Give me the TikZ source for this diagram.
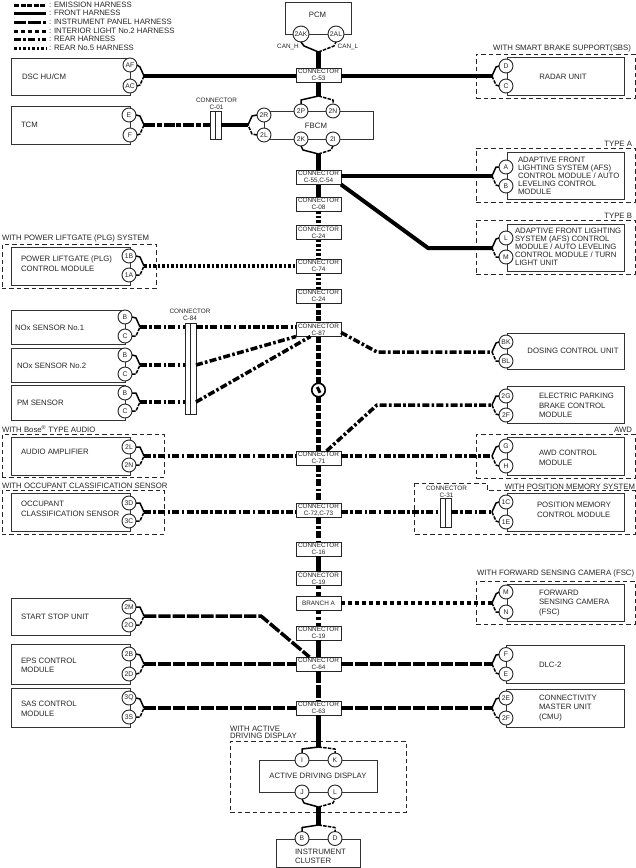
\documentclass[tikz,border=0pt]{standalone}
\usepackage{fontspec}
\setmainfont{Liberation Sans}
\usetikzlibrary{calc}
\newcommand{\bigtxt}{\fontsize{7.8}{9.6}\selectfont}
\newcommand{\tighttxt}{\fontsize{7.8}{7.9}\selectfont}
\newcommand{\smalltxt}{\fontsize{6.4}{6.9}\selectfont}
\tikzset{
  harn/.style={line width=3.5bp,black},
  hEm/.style={harn,dash pattern=on 5bp off 1.6bp},
  hTc/.style={harn,dash pattern=on 11bp off 1.8bp on 5bp off 1.8bp},
  hFr/.style={harn},
  hIp/.style={harn,dash pattern=on 12.3bp off 2bp},
  hIl/.style={harn,dash pattern=on 3.5bp off 3.5bp},
  hRe/.style={harn,dash pattern=on 7bp off 2.3bp on 2.6bp off 2.3bp},
  hRf/.style={harn,dash pattern=on 2.5bp off 2bp},
  trunk/.style={line width=5bp},
  twistA/.style={line width=1.5bp,black,line join=round},
  twistB/.style={line width=1.5bp,black,line join=round,dash pattern=on 3.5bp off 1.2bp},
  boxs/.style={draw=black!80,line width=1bp,inner sep=0pt,outer sep=0pt},
  dbox/.style={draw=black!85,line width=0.9bp,dash pattern=on 4.5bp off 3bp,inner sep=0pt,outer sep=0pt},
  conn/.style={draw=black!85,line width=1bp,fill=white,minimum width=45bp,minimum height=14bp,inner sep=0pt,outer sep=0pt,align=center,font=\smalltxt,text=black!85},
  pinc/.style={circle,draw=black!85,line width=0.9bp,fill=white,minimum size=14bp,inner sep=0pt,outer sep=0pt,font=\fontsize{6.8}{7}\selectfont,text=black!85},
  pinb/.style={pinc,minimum size=16bp},
  lab/.style={inner sep=0pt,outer sep=0pt,font=\bigtxt,text=black!85,align=left,anchor=west},
  labt/.style={lab,font=\tighttxt},
  slab/.style={inner sep=0pt,outer sep=0pt,font=\smalltxt,text=black!85,align=center},
  barc/.style={draw=black!85,line width=0.9bp,fill=white,inner sep=0pt,outer sep=0pt},
  gnds/.style={circle,draw=black,line width=1.6bp,fill=white,minimum size=13.5bp,inner sep=0pt,outer sep=0pt}
}
% rectangle node from corners
\newcommand{\rbox}[6]{%
  \pgfmathsetmacro{\cxx}{(#3+#5)/2}\pgfmathsetmacro{\cyy}{(#4+#6)/2}%
  \pgfmathsetmacro{\wdd}{#5-#3}\pgfmathsetmacro{\htt}{#6-#4}%
  \node[#1,minimum width=\wdd bp,minimum height=\htt bp] (#2) at (\cxx,\cyy) {};}
\newcommand{\cnode}[4]{\node[conn] (#1) at (318.5,#2) {#3\\#4};}
% fork opening to the right (pins on left side) a,b pins; j junction
\newcommand{\forkR}[3]{%
  \draw[twistA] (#1.east) -- ($(#3)+(-4,-9)$) -- (#3);
  \draw[twistB] (#2.east) -- ($(#3)+(-4,9)$) -- (#3);}
% fork opening to the left (pins on right side)
\newcommand{\forkL}[3]{%
  \draw[twistA] (#1.west) -- ($(#3)+(4,-9)$) -- (#3);
  \draw[twistB] (#2.west) -- ($(#3)+(4,9)$) -- (#3);}
% fork from a junction above down to two pins
\newcommand{\forkD}[3]{%
  \draw[twistA] (#3) -- ($(#1.north)+(0,-4)$) -- (#1.north);
  \draw[twistB] (#3) -- ($(#2.north)+(0,-4)$) -- (#2.north);}
% fork from two pins down to a junction below
\newcommand{\forkU}[3]{%
  \draw[twistA] (#3) -- ($(#1.south)+(2,4)$) -- (#1.south);
  \draw[twistB] (#3) -- ($(#2.south)+(-2,4)$) -- (#2.south);}
\begin{document}
\begin{tikzpicture}[x=1bp,y=-1bp]
\useasboundingbox (0,0) rectangle (636,868);
\fill[white] (0,0) rectangle (636,868);
% legend
\foreach \n/\yy/\st/\tx in {1/5/hEm/{: EMISSION HARNESS},2/13/hFr/{: FRONT HARNESS},3/22/hIp/{: INSTRUMENT PANEL HARNESS},4/31/hIl/{: INTERIOR LIGHT No.2 HARNESS},5/39/hRe/{: REAR HARNESS},6/48/hRf/{: REAR No.5 HARNESS}}{
  \coordinate (lg\n) at (14,\yy);
  \node[lab,inner xsep=3bp] (lt\n) at (46,\yy) {\tx};
  \draw[\st,line width=3bp] (lg\n) -- (lt\n.west);
}
% dashed option boxes
\rbox{dbox}{dSBS}{476}{54}{635}{98}
\rbox{dbox}{dTA}{476}{148}{635}{202}
\rbox{dbox}{dTB}{476}{220}{635}{274}
\rbox{dbox}{dPLG}{2}{244}{156}{288}
\rbox{dbox}{dAUD}{2}{434}{164}{477}
\rbox{dbox}{dOCC}{2}{490}{164}{534}
\rbox{dbox}{dAWD}{476}{434}{635}{478}
\rbox{dbox}{dFSC}{476}{581}{635}{624}
\rbox{dbox}{dADD}{230}{741}{406}{812}
\draw[draw=black!85,line width=0.9bp,dash pattern=on 4.5bp off 3bp] (414,483) -- (487,483) -- (487,490.5) -- (635,490.5) -- (635,534) -- (414,534) -- cycle;
% boxes
\rbox{boxs}{bPCM}{285}{3}{351}{34}
\rbox{boxs}{bDSC}{12}{58}{130}{95}
\rbox{boxs}{bTCM}{12}{106}{130}{144}
\rbox{boxs}{bFBCM}{264}{111}{373}{139}
\rbox{boxs}{bRAD}{507}{57}{624}{95}
\rbox{boxs}{bAFSA}{507}{152.5}{624}{199}
\rbox{boxs}{bAFSB}{507}{224}{624}{271}
\rbox{boxs}{bPLG}{12}{247}{130}{285}
\rbox{boxs}{bNA}{12}{310}{125}{344.5}
\rbox{boxs}{bNB}{12}{348}{125}{382}
\rbox{boxs}{bPM}{12}{385}{125}{420}
\rbox{boxs}{bDOS}{507}{333}{624}{369}
\rbox{boxs}{bEPB}{507}{386}{624}{423}
\rbox{boxs}{bAUD}{12}{437}{130}{475}
\rbox{boxs}{bAWD}{507}{437}{624}{475}
\rbox{boxs}{bOCC}{12}{493}{130}{531}
\rbox{boxs}{bPOS}{507}{493}{624}{531}
\rbox{boxs}{bFSC}{507}{584}{624}{621}
\rbox{boxs}{bSS}{12}{598}{130}{635}
\rbox{boxs}{bEPS}{12}{644}{130}{684}
\rbox{boxs}{bDLC}{506}{645}{624}{683}
\rbox{boxs}{bSAS}{12}{688}{130}{727}
\rbox{boxs}{bCMU}{506}{689}{624}{727}
\rbox{boxs}{bADD}{259}{760}{377}{792}
\rbox{boxs}{bINS}{276}{839}{360}{867}
% connector bars
\rbox{barc}{c01}{210}{111}{221}{139}
\rbox{barc}{c84}{185}{323}{196}{414}
\rbox{barc}{c31}{440}{498}{451}{527}
\draw[black!85,line width=0.9bp] (c01.north) -- (c01.south);
\draw[black!85,line width=0.9bp] (c84.north) -- (c84.south);
\draw[black!85,line width=0.9bp] (c31.north) -- (c31.south);
\node[slab] (c01t) at (216.5,103.5) {CONNECTOR\\C-01};
\node[slab] (c84t) at (190,315) {CONNECTOR\\C-84};
\node[slab] (c31t) at (446.5,491.5) {CONNECTOR\\C-31};
% trunk connectors
\cnode{c53}{75}{CONNECTOR}{C-53}
\cnode{c55}{177.5}{CONNECTOR}{C-55,C-54}
\cnode{c08}{204}{CONNECTOR}{C-08}
\cnode{c24a}{232.5}{CONNECTOR}{C-24}
\cnode{c74}{266}{CONNECTOR}{C-74}
\cnode{c24b}{296}{CONNECTOR}{C-24}
\cnode{c87}{329.5}{CONNECTOR}{C-87}
\cnode{c71}{458}{CONNECTOR}{C-71}
\cnode{c72}{510}{CONNECTOR}{C-72,C-73}
\cnode{c16}{549}{CONNECTOR}{C-16}
\cnode{c19a}{578.5}{CONNECTOR}{C-19}
\node[conn] (brA) at (318.5,603) {BRANCH A};
\cnode{c19b}{633}{CONNECTOR}{C-19}
\cnode{c64}{664}{CONNECTOR}{C-64}
\cnode{c63}{708}{CONNECTOR}{C-63}
% pins
\node[pinb] (p2AK) at (301,34) {2AK};
\node[pinb] (p2AL) at (336,34) {2AL};
\node[pinc] (pAF) at (130,65) {AF};
\node[pinc] (pAC) at (130,86) {AC};
\node[pinc] (pE) at (129,115) {E};
\node[pinc] (pF) at (130,135) {F};
\node[pinc] (p2R) at (264,115) {2R};
\node[pinc] (p2L) at (264,135) {2L};
\node[pinc] (p2P) at (301,111) {2P};
\node[pinc] (p2N) at (333,111) {2N};
\node[pinc] (p2K) at (301,139) {2K};
\node[pinc] (p2I) at (333,139) {2I};
\node[pinc] (pD) at (506,66) {D};
\node[pinc] (pC) at (506,86) {C};
\node[pinc] (pA) at (506,167) {A};
\node[pinc] (pB) at (506,186) {B};
\node[pinc] (pL) at (506,238) {L};
\node[pinc] (pM) at (506,257) {M};
\node[pinc] (p1B) at (129,256) {1B};
\node[pinc] (p1A) at (129,275) {1A};
\node[pinc] (naB) at (125,317) {B};
\node[pinc] (naC) at (125,336) {C};
\node[pinc] (nbB) at (125,355) {B};
\node[pinc] (nbC) at (125,374) {C};
\node[pinc] (pmB) at (125,393) {B};
\node[pinc] (pmC) at (125,411) {C};
\node[pinc] (pBK) at (506,342) {BK};
\node[pinc] (pBL) at (506,361) {BL};
\node[pinc] (e2G) at (506,396) {2G};
\node[pinc] (e2F) at (506,415) {2F};
\node[pinc] (a2L) at (129,447) {2L};
\node[pinc] (a2N) at (129,465) {2N};
\node[pinc] (pG) at (506,446) {G};
\node[pinc] (pH) at (506,466) {H};
\node[pinc] (p3D) at (129,503) {3D};
\node[pinc] (p3C) at (129,521) {3C};
\node[pinc] (p1C) at (506,502) {1C};
\node[pinc] (p1E) at (506,522) {1E};
\node[pinc] (fM) at (506,592) {M};
\node[pinc] (fN) at (506,612) {N};
\node[pinc] (p2M) at (129,607) {2M};
\node[pinc] (p2O) at (129,625) {2O};
\node[pinc] (p2B) at (129,654) {2B};
\node[pinc] (p2D) at (129,674) {2D};
\node[pinc] (dF) at (506,654.5) {F};
\node[pinc] (dE) at (506,674) {E};
\node[pinc] (p3Q) at (129,698) {3Q};
\node[pinc] (p3S) at (129,717) {3S};
\node[pinc] (c2E) at (506,698) {2E};
\node[pinc] (c2F) at (506,718) {2F};
\node[pinc] (pI) at (302,760) {I};
\node[pinc] (pK) at (335,760) {K};
\node[pinc] (pJ) at (302,792) {J};
\node[pinc] (pLL) at (335,792) {L};
\node[pinc] (iB) at (302,838.5) {B};
\node[pinc] (iD) at (335,838.5) {D};
\node[gnds] (gnd) at (318.5,390) {};
% junction coordinates
\coordinate (jPCM) at (318.5,52);
\coordinate (jFT) at (318.5,96);
\coordinate (jFB) at (318.5,154);
\coordinate (jAT) at (318.5,747);
\coordinate (jAB) at (318.5,807);
\coordinate (jIT) at (318.5,825);
\coordinate (jDSC) at (144,76);
\coordinate (jTCM) at (144,125);
\coordinate (j2R) at (248,125);
\coordinate (jPLG) at (144,266);
\coordinate (jNA) at (140,327);
\coordinate (jNB) at (140,365);
\coordinate (jPM) at (140,402);
\coordinate (jAUD) at (144,456);
\coordinate (jOCC) at (144,512);
\coordinate (jSS) at (144,616);
\coordinate (jEPS) at (144,664);
\coordinate (jSAS) at (144,708);
\coordinate (jRAD) at (492,76);
\coordinate (jTA) at (492,176);
\coordinate (jTB) at (492,248);
\coordinate (jDOS) at (492,352);
\coordinate (jEPB) at (492,405);
\coordinate (jAWD) at (492,456);
\coordinate (jPOS) at (492,512);
\coordinate (jFSC) at (492,603);
\coordinate (jDLC) at (492,664);
\coordinate (jCMU) at (492,708);
\coordinate (bTB) at (428,248);
\coordinate (bDOSc) at (377,352);
\coordinate (bEPBc) at (377,405);
\coordinate (bSSc) at (261,616);
% twisted pairs
\draw[twistA] (jPCM) -- (304,46) -- (p2AK.south);
\draw[twistB] (jPCM) -- (334,46) -- (p2AL.south);
\forkD{p2P}{p2N}{jFT}
\forkU{p2K}{p2I}{jFB}
\forkD{pI}{pK}{jAT}
\forkU{pJ}{pLL}{jAB}
\forkD{iB}{iD}{jIT}
\forkR{pAF}{pAC}{jDSC}
\forkR{pE}{pF}{jTCM}
\forkL{p2R}{p2L}{j2R}
\forkR{p1B}{p1A}{jPLG}
\forkR{naB}{naC}{jNA}
\forkR{nbB}{nbC}{jNB}
\forkR{pmB}{pmC}{jPM}
\forkR{a2L}{a2N}{jAUD}
\forkR{p3D}{p3C}{jOCC}
\forkR{p2M}{p2O}{jSS}
\forkR{p2B}{p2D}{jEPS}
\forkR{p3Q}{p3S}{jSAS}
\forkL{pD}{pC}{jRAD}
\forkL{pA}{pB}{jTA}
\forkL{pL}{pM}{jTB}
\forkL{pBK}{pBL}{jDOS}
\forkL{e2G}{e2F}{jEPB}
\forkL{pG}{pH}{jAWD}
\forkL{p1C}{p1E}{jPOS}
\forkL{fM}{fN}{jFSC}
\forkL{dF}{dE}{jDLC}
\forkL{c2E}{c2F}{jCMU}
% trunk
\draw[hFr,trunk] (jPCM) -- (c53.north);
\draw[hFr,trunk] (c53.south) -- (jFT);
\draw[hFr,trunk] (jFB) -- (c55.north);
\draw[hFr,trunk] (c55.south) -- (c08.north);
\draw[hRf,trunk] (c08.south) -- (c24a.north);
\draw[hRf,trunk] (c24a.south) -- (c74.north);
\draw[hRf,trunk] (c74.south) -- (c24b.north);
\draw[hEm,trunk] (c24b.south) -- (c87.north);
\draw[hEm,trunk,dash pattern=on 6bp off 2bp] (c87.south) -- (gnd.north);
\draw[hEm,trunk,dash pattern=on 6bp off 2bp] (gnd.south) -- (c71.north);
\draw[hRe,trunk] (c71.south) -- (c72.north);
\draw[hRe,trunk] (c72.south) -- (c16.north);
\draw[hFr,trunk] (c16.south) -- (c19a.north);
\draw[hIl,trunk,dash pattern=on 3.5bp off 3bp] (c19a.south) -- (brA.north);
\draw[hIl,trunk,dash pattern=on 3.5bp off 3bp] (brA.south) -- (c19b.north);
\draw[hFr,trunk] (c19b.south) -- (c64.north);
\draw[hIp,trunk] (c64.south) -- (c63.north);
\draw[hFr,trunk] (c63.south) -- (jAT);
\draw[hFr,trunk] (jAB) -- (jIT);
\draw[line width=3bp] ($(gnd.center)+(-1.2,-3)$) -- ($(gnd.center)+(1.5,2.8)$);
% harness runs
\draw[hFr] (jDSC) -- (c53.west |- jDSC);
\draw[hFr] (c53.east |- jRAD) -- (jRAD);
\draw[hTc] (jTCM) -- (c01.west |- jTCM);
\draw[hFr] (c01.east |- j2R) -- (j2R);
\draw[hFr] (c55.east |- jTA) -- (jTA);
\draw[hFr,line width=4bp,line join=bevel] (c55.south east) -- (bTB) -- (jTB);
\draw[hRf] (jPLG) -- (c74.west |- jPLG);
\draw[hRe] (jNA) -- (c84.west |- jNA);
\draw[hRe] (jNB) -- (c84.west |- jNB);
\draw[hRe] (jPM) -- (c84.west |- jPM);
\draw[hRe] (c84.east |- jNA) -- (c87.west |- jNA);
\draw[hRe] (c84.east |- jNB) -- (c87.south west);
\draw[hRe] (c84.east |- jPM) -- ($(c87.south)+(-8,0)$);
\draw[hRe] (c87.east) ++(0,3) -- (bDOSc) -- (jDOS);
\draw[hRe] ($(c71.north)+(8,0)$) -- (bEPBc) -- (jEPB);
\draw[hRe] (jAUD) -- (c71.west |- jAUD);
\draw[hRe] (c71.east |- jAWD) -- (jAWD);
\draw[hRe] (jOCC) -- (c72.west |- jOCC);
\draw[hRe] (c72.east |- jPOS) -- (c31.west |- jPOS);
\draw[hRe] (c31.east |- jPOS) -- (jPOS);
\draw[hIl] (brA.east |- jFSC) -- (jFSC);
\draw[hIp] (jSS) -- (bSSc) -- ($(c64.north)+(-9,0)$);
\draw[hIp] (jEPS) -- (c64.west |- jEPS);
\draw[hIp] (c64.east |- jDLC) -- (jDLC);
\draw[hIp] (jSAS) -- (c63.west |- jSAS);
\draw[hIp] (c63.east |- jCMU) -- (jCMU);
% texts
\node[lab,anchor=center] (tPCM) at (317.5,15) {PCM};
\node[slab] (tCH) at (288,47) {CAN\_H};
\node[slab] (tCL) at (348,47) {CAN\_L};
\node[lab] (tDSC) at (22,76.5) {DSC HU/CM};
\node[lab] (tTCM) at (21,125) {TCM};
\node[lab,anchor=center] (tFB) at (316,126) {FBCM};
\node[lab,anchor=center] (tRAD) at (563,76.5) {RADAR UNIT};
\node[lab,anchor=south west] (tSBS) at (493,52) {WITH SMART BRAKE SUPPORT(SBS)};
\node[lab,anchor=south east] (tTA) at (632,146) {TYPE A};
\node[labt] (tAFA) at (518,176) {ADAPTIVE FRONT\\LIGHTING SYSTEM (AFS)\\CONTROL MODULE / AUTO\\LEVELING CONTROL\\MODULE};
\node[lab,anchor=south east] (tTB) at (632,218) {TYPE B};
\node[labt] (tAFB) at (515,247) {ADAPTIVE FRONT LIGHTING\\SYSTEM (AFS) CONTROL\\MODULE / AUTO LEVELING\\CONTROL MODULE / TURN\\LIGHT UNIT};
\node[lab,anchor=south west] (tPLGh) at (2,242) {WITH POWER LIFTGATE (PLG) SYSTEM};
\node[lab] (tPLG) at (21,264) {POWER LIFTGATE (PLG)\\CONTROL MODULE};
\node[lab] (tNA) at (15,328) {NOx SENSOR No.1};
\node[lab] (tNB) at (17,366) {NOx SENSOR No.2};
\node[lab] (tPM) at (17,403) {PM SENSOR};
\node[lab,anchor=center] (tDOS) at (573,351) {DOSING CONTROL UNIT};
\node[lab] (tEPB) at (539,405.5) {ELECTRIC PARKING\\BRAKE CONTROL\\MODULE};
\node[lab,anchor=south west] (tAUh) at (2,432.5) {WITH Bose\textsuperscript{\textregistered} TYPE AUDIO};
\node[lab] (tAU) at (21,452) {AUDIO AMPLIFIER};
\node[lab,anchor=south east] (tAW) at (632,432.5) {AWD};
\node[lab] (tAWD) at (539,458) {AWD CONTROL\\MODULE};
\node[lab,anchor=south west] (tOCh) at (2,488.5) {WITH OCCUPANT CLASSIFICATION SENSOR};
\node[lab] (tOC) at (21,509) {OCCUPANT\\CLASSIFICATION SENSOR};
\node[lab,anchor=south east] (tPOh) at (635,489.5) {WITH POSITION MEMORY SYSTEM};
\node[lab] (tPO) at (537,510) {POSITION MEMORY\\CONTROL MODULE};
\node[lab,anchor=south west] (tFSh) at (477,577) {WITH FORWARD SENSING CAMERA (FSC)};
\node[lab] (tFS) at (539,603) {FORWARD\\SENSING CAMERA\\(FSC)};
\node[lab] (tSS) at (21,617) {START STOP UNIT};
\node[lab] (tEP) at (21,665.5) {EPS CONTROL\\MODULE};
\node[lab] (tDL) at (539,665) {DLC-2};
\node[lab] (tSA) at (21,709) {SAS CONTROL\\MODULE};
\node[lab] (tCM) at (539,708) {CONNECTIVITY\\MASTER UNIT\\(CMU)};
\node[labt,anchor=south west] (tADh) at (230,739) {WITH ACTIVE\\DRIVING DISPLAY};
\node[lab,anchor=center] (tAD) at (318,776) {ACTIVE DRIVING DISPLAY};
\node[lab] (tIN) at (295,856.5) {INSTRUMENT\\CLUSTER};
\end{tikzpicture}
\end{document}
